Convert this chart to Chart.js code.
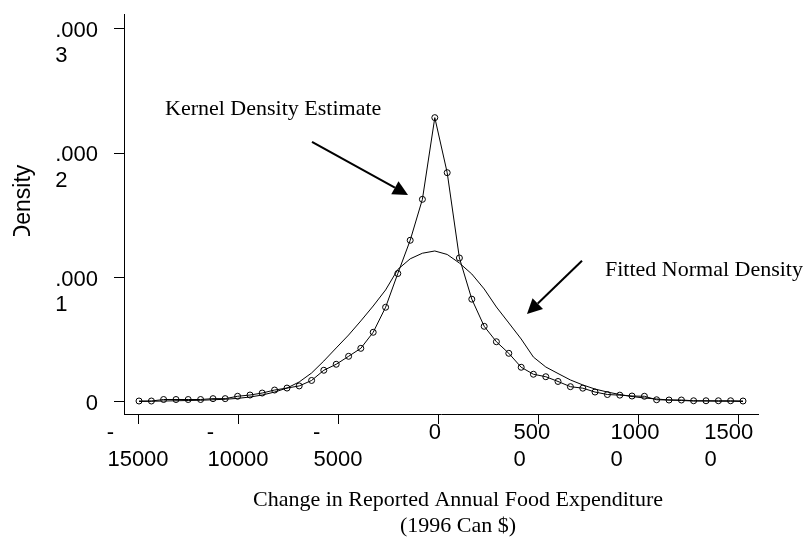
<!DOCTYPE html>
<html><head><meta charset="utf-8">
<script src="https://cdn.jsdelivr.net/npm/chart.js@4/dist/chart.umd.min.js"></script>
<style>html,body{margin:0;padding:0;background:#fff;}canvas{display:block;}</style>
</head><body>
<canvas id="c" width="805" height="537"></canvas>
<script>
// Change in reported annual food expenditure (1996 Can $) at which densities are evaluated
const expenditureChange = [-14950,-14330,-13720,-13100,-12490,-11870,-11250,-10640,-10020,-9400,
  -8790,-8170,-7550,-6940,-6320,-5710,-5090,-4470,-3860,-3240,
  -2620,-2010,-1390,-780,-160,460,1070,1690,2310,2920,
  3540,4160,4770,5390,6000,6620,7240,7850,8470,9090,
  9700,10320,10930,11550,12170,12780,13400,14020,14630,15250];
// Kernel density estimate
const kernelDensity = [0.008e-4,0.008e-4,0.020e-4,0.020e-4,0.020e-4,0.020e-4,0.027e-4,0.027e-4,0.046e-4,0.056e-4,
  0.072e-4,0.096e-4,0.112e-4,0.129e-4,0.173e-4,0.255e-4,0.303e-4,0.367e-4,0.431e-4,0.560e-4,
  0.761e-4,1.032e-4,1.299e-4,1.628e-4,2.284e-4,1.842e-4,1.157e-4,0.826e-4,0.608e-4,0.484e-4,
  0.391e-4,0.279e-4,0.223e-4,0.203e-4,0.165e-4,0.123e-4,0.111e-4,0.080e-4,0.060e-4,0.055e-4,
  0.048e-4,0.046e-4,0.018e-4,0.016e-4,0.016e-4,0.010e-4,0.010e-4,0.010e-4,0.010e-4,0.008e-4];
// Fitted normal density
const normalDensity = [0.004e-4,0.006e-4,0.008e-4,0.010e-4,0.012e-4,0.014e-4,0.018e-4,0.022e-4,0.029e-4,0.040e-4,
  0.056e-4,0.080e-4,0.112e-4,0.161e-4,0.233e-4,0.329e-4,0.434e-4,0.538e-4,0.651e-4,0.771e-4,
  0.900e-4,1.065e-4,1.150e-4,1.195e-4,1.213e-4,1.185e-4,1.116e-4,1.028e-4,0.908e-4,0.763e-4,
  0.635e-4,0.506e-4,0.361e-4,0.281e-4,0.229e-4,0.177e-4,0.137e-4,0.104e-4,0.080e-4,0.060e-4,
  0.044e-4,0.032e-4,0.024e-4,0.016e-4,0.012e-4,0.008e-4,0.008e-4,0.006e-4,0.006e-4,0.004e-4];

const xTickValues = [-15000,-10000,-5000,0,5000,10000,15000];
const xTickLabels = [["-         ","15000"],["-         ","10000"],["-       ","5000"],["0 "],["500  ","0      "],["1000 ","0       "],["1500   ","0         "]];
const yTickValues = [0, 0.0001, 0.0002, 0.0003];
const yTickLabels = [["0",""],[".000","1     "],[".000","2     "],[".000","3     "]];

const noteTexts = [
  {text:"Kernel Density Estimate", x:-13650, y:2.305e-4},
  {text:"Fitted Normal Density", x:8350, y:1.012e-4}
];
const noteArrows = [
  {from:[-6300, 2.09e-4], to:[-1500, 1.663e-4]},
  {from:[7200, 1.135e-4], to:[4450, 0.707e-4]}
];
const xTitle = ["Change in Reported Annual Food Expenditure", "(1996 Can $)"];
const yTitle = "Density";

const SANS = '"Liberation Sans", Arial, sans-serif';
const SERIF = '"Liberation Serif", "Times New Roman", serif';

const notesPlugin = {
  id: 'notes',
  afterDraw(chart) {
    const {ctx, scales:{x, y}} = chart;
    ctx.save();
    ctx.fillStyle = '#000'; ctx.strokeStyle = '#000';
    ctx.font = '22px ' + SERIF;
    ctx.textAlign = 'left'; ctx.textBaseline = 'alphabetic';
    noteTexts.forEach(t => ctx.fillText(t.text, x.getPixelForValue(t.x), y.getPixelForValue(t.y)));
    noteArrows.forEach(a => {
      const x0 = x.getPixelForValue(a.from[0]), y0 = y.getPixelForValue(a.from[1]);
      const x1 = x.getPixelForValue(a.to[0]), y1 = y.getPixelForValue(a.to[1]);
      const ang = Math.atan2(y1 - y0, x1 - x0), L = 15, W = 7.5;
      const bx = x1 - L * Math.cos(ang), by = y1 - L * Math.sin(ang);
      ctx.lineWidth = 2;
      ctx.beginPath(); ctx.moveTo(x0, y0); ctx.lineTo(bx, by); ctx.stroke();
      ctx.beginPath();
      ctx.moveTo(x1, y1);
      ctx.lineTo(bx + W * Math.sin(ang), by - W * Math.cos(ang));
      ctx.lineTo(bx - W * Math.sin(ang), by + W * Math.cos(ang));
      ctx.closePath(); ctx.fill();
    });
    // x axis title
    ctx.textAlign = 'center';
    ctx.fillText(xTitle[0], 458, 505.5);
    ctx.fillText(xTitle[1], 458, 532);
    // y axis title (clipped like the original)
    ctx.save();
    ctx.beginPath(); ctx.rect(0, 0, 60, 236); ctx.clip();
    ctx.translate(30, 203); ctx.rotate(-Math.PI / 2);
    ctx.font = '23px ' + SANS;
    ctx.fillText(yTitle, 0, 0);
    ctx.restore();
    ctx.restore();
  }
};

new Chart(document.getElementById('c'), {
  type: 'line',
  data: {
    datasets: [
      {
        label: 'Kernel Density Estimate',
        data: expenditureChange.map((v, i) => ({x: v, y: kernelDensity[i]})),
        borderColor: '#000', borderWidth: 1, tension: 0,
        pointRadius: 3, pointBorderWidth: 1, pointBorderColor: '#000',
        pointBackgroundColor: 'rgba(0,0,0,0)', fill: false
      },
      {
        label: 'Fitted Normal Density',
        data: expenditureChange.map((v, i) => ({x: v, y: normalDensity[i]})),
        borderColor: '#000', borderWidth: 1, tension: 0,
        pointRadius: 0, fill: false
      }
    ]
  },
  options: {
    responsive: false, animation: false, devicePixelRatio: 1,
    layout: {padding: {left: 55, top: 14, right: 47, bottom: 0}},
    plugins: {legend: {display: false}, tooltip: {enabled: false}},
    scales: {
      x: {
        type: 'linear', min: -15700, max: 16000,
        afterBuildTicks: s => { s.ticks = xTickValues.map(v => ({value: v})); },
        afterFit: s => { s.height = 123; s.paddingLeft = 0; s.paddingRight = 0; },
        ticks: {
          callback: (v) => xTickLabels[xTickValues.indexOf(v)],
          font: {family: SANS, size: 22, lineHeight: 1.2},
          color: '#000', padding: -4, maxRotation: 0, autoSkip: false
        },
        grid: {drawOnChartArea: false, tickLength: 10, color: '#000', tickColor: '#000', tickWidth: 1},
        border: {display: true, color: '#000', width: 1}
      },
      y: {
        type: 'linear', min: -0.0964e-4, max: 3.1165e-4,
        afterBuildTicks: s => { s.ticks = yTickValues.map(v => ({value: v})); },
        afterFit: s => { s.width = 69; s.paddingTop = 0; s.paddingBottom = 0; },
        ticks: {
          callback: (v) => yTickLabels[yTickValues.indexOf(v)],
          font: {family: SANS, size: 22, lineHeight: 1.15},
          color: '#000', padding: 16, labelOffset: 15, crossAlign: 'near'
        },
        grid: {drawOnChartArea: false, tickLength: 10, color: '#000', tickColor: '#000', tickWidth: 1},
        border: {display: true, color: '#000', width: 1}
      }
    }
  },
  plugins: [notesPlugin]
});
</script>
</body></html>
